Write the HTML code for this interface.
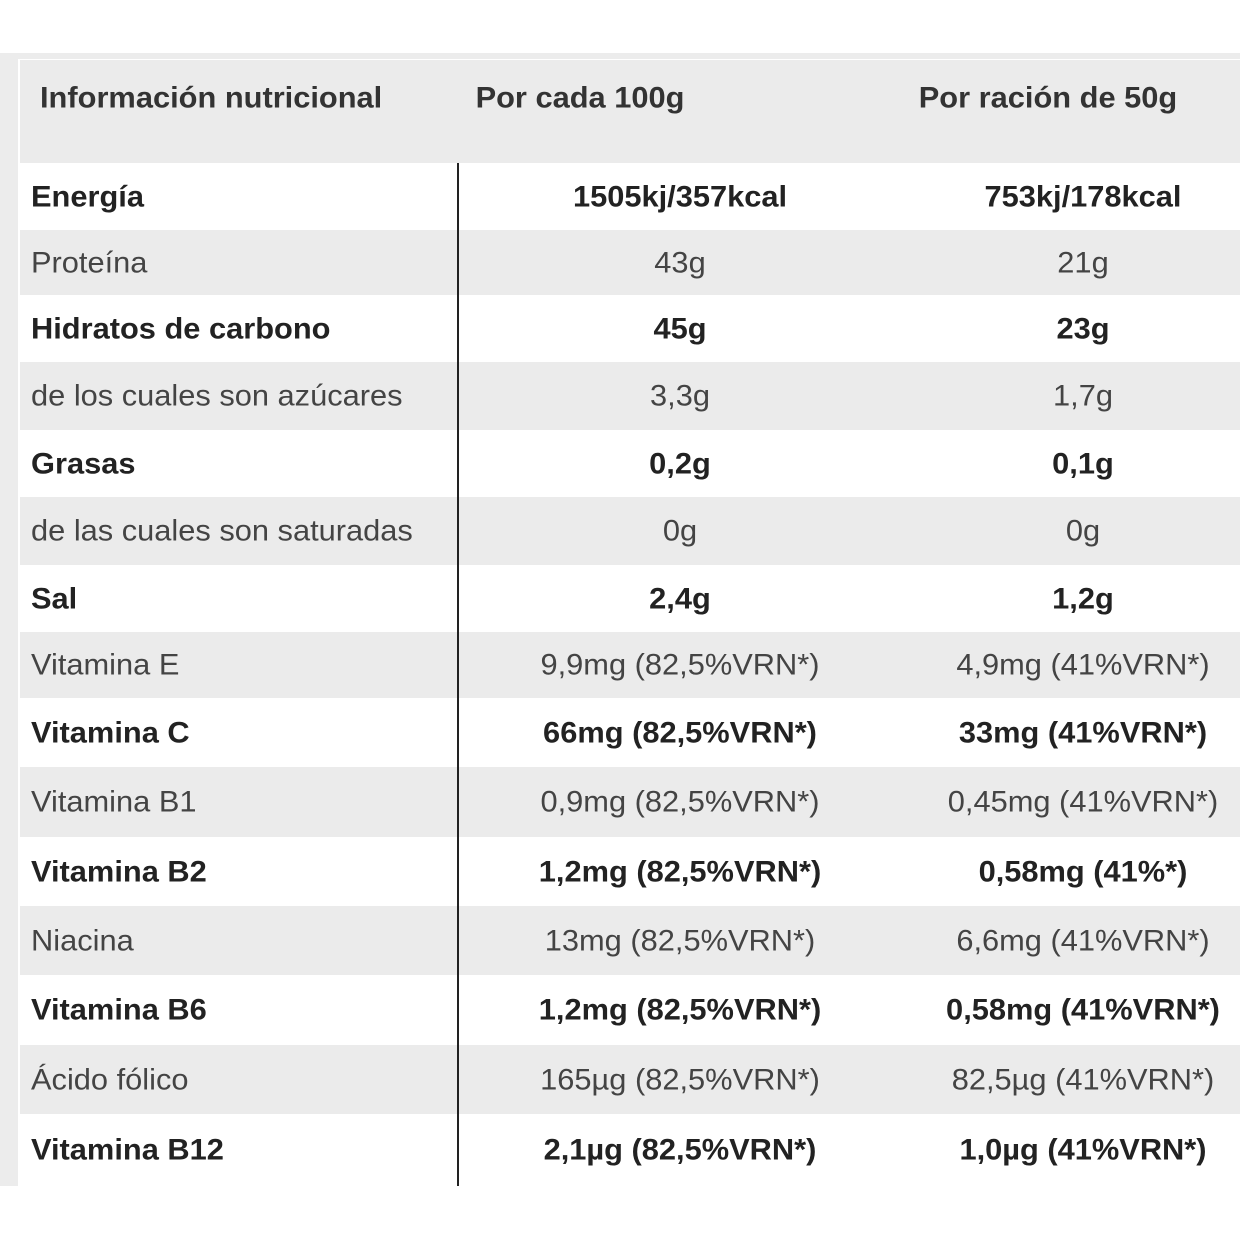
<!DOCTYPE html>
<html><head><meta charset="utf-8"><style>
body{margin:0;width:1240px;height:1240px;background:#fff;position:relative;overflow:hidden;font-family:"Liberation Sans",Arial,sans-serif;color:#333}
.frame{position:absolute;left:0;top:53px;width:1240px;height:1133px;background:#ececec}
.inner{position:absolute;left:18px;top:59px;width:1222px;height:1127px;background:#fff}
.hdr{position:absolute;left:20px;top:60px;width:1220px;height:103px;background:#ebebeb}
.row{position:absolute;left:20px;width:1220px}
.t{position:absolute;font-size:28px;white-space:nowrap;transform:translateY(-50%) scale(1.1,1.05);transform-origin:0 50%;letter-spacing:0px}
.b{font-weight:bold}
.c{transform:translate(-50%,-50%) scale(1.1,1.05);transform-origin:50% 50%}
.vline{position:absolute;left:457px;top:163px;width:2px;height:1023px;background:#222}
</style></head><body>
<div class="frame"></div>
<div class="inner"></div>
<div class="hdr">
  <div class="t b" style="left:20px;top:38px">Información nutricional</div>
  <div class="t b c" style="left:560px;top:38px">Por cada 100g</div>
  <div class="t b c" style="left:1028px;top:38px">Por ración de 50g</div>
</div>
<div id="rows"></div>
<div class="vline"></div>
<script>
const labels=["Energía","Proteína","Hidratos de carbono","de los cuales son azúcares","Grasas","de las cuales son saturadas","Sal","Vitamina E","Vitamina C","Vitamina B1","Vitamina B2","Niacina","Vitamina B6","Ácido fólico","Vitamina B12"];
const per100=["1505kj/357kcal","43g","45g","3,3g","0,2g","0g","2,4g","9,9mg (82,5%VRN*)","66mg (82,5%VRN*)","0,9mg (82,5%VRN*)","1,2mg (82,5%VRN*)","13mg (82,5%VRN*)","1,2mg (82,5%VRN*)","165µg (82,5%VRN*)","2,1µg (82,5%VRN*)"];
const perServ=["753kj/178kcal","21g","23g","1,7g","0,1g","0g","1,2g","4,9mg (41%VRN*)","33mg (41%VRN*)","0,45mg (41%VRN*)","0,58mg (41%*)","6,6mg (41%VRN*)","0,58mg (41%VRN*)","82,5µg (41%VRN*)","1,0µg (41%VRN*)"];
const bounds=[163,230,295,362,430,497,565,632,698,767,837,906,975,1045,1114,1186];
const host=document.getElementById('rows');
labels.forEach((lab,i)=>{
  const r=document.createElement('div');
  r.className='row';
  
  
  r.style.top=bounds[i]+'px';
  const h=bounds[i+1]-bounds[i];
  r.style.height=h+'px';
  r.style.background=i%2?'#ebebeb':'#fff';
  const bold=i%2===0;
  const mk=(txt,left,center,name)=>{
    const d=document.createElement('div');
    d.className='t'+(bold?' b':'')+(center?' c':'');
    
    
    d.style.left=left+'px';d.style.top=(h/2)+'px';
    d.style.color=bold?'#222':'#444';
    d.textContent=txt;r.appendChild(d);
  };
  mk(lab,11,false,'row-label');
  mk(per100[i],660,true,'value-per-100g');
  mk(perServ[i],1063,true,'value-per-serving');
  host.appendChild(r);
});
</script>
</body></html>
